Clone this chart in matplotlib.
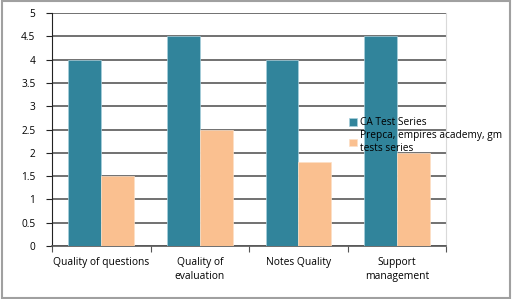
import matplotlib
matplotlib.use("Agg")
import matplotlib.pyplot as plt
from matplotlib.patches import Rectangle
import numpy as np

categories = ["Quality of questions", "Quality of\nevaluation", "Notes Quality", "Support\nmanagement"]
series_names = ["CA Test Series", "Prepca, empires academy, gm\ntests series"]
ca_values = [4.0, 4.5, 4.0, 4.5]
prepca_values = [1.5, 2.5, 1.8, 2.0]
yticks = [0, 0.5, 1, 1.5, 2, 2.5, 3, 3.5, 4, 4.5, 5]
ytick_labels = ["0", "0.5", "1", "1.5", "2", "2.5", "3", "3.5", "4", "4.5", "5"]

plt.rcParams['font.family'] = ['Open Sans', 'DejaVu Sans']

fig = plt.figure(figsize=(5.12, 2.99), dpi=100)
ax = fig.add_axes([0.1016, 0.177, 0.770, 0.7795])

x = np.arange(len(categories))
w = 1/3
teal = "#31849B"
peach = "#FAC090"
ax.bar(x - w/2, ca_values, width=w, color=teal, edgecolor="#a9d0dc", linewidth=0.5, label=series_names[0], zorder=3)
ax.bar(x + w/2, prepca_values, width=w, color=peach, edgecolor="#fde0c6", linewidth=0.5, label=series_names[1], zorder=3)

ax.set_xlim(-0.5, len(categories) - 0.5)
ax.set_ylim(0, 5)
ax.set_yticks(yticks)
ax.set_yticklabels(ytick_labels, fontsize=7.3)
ax.yaxis.grid(True, color="#4a4a4a", linewidth=1.1, zorder=0)
ax.set_axisbelow(True)

# category ticks at boundaries, labels at centers
ax.set_xticks(np.arange(len(categories) + 1) - 0.5)
ax.set_xticklabels([""] * (len(categories) + 1))
ax.set_xticks(x, minor=True)
ax.set_xticklabels(categories, minor=True, fontsize=7.4, linespacing=1.35)
ax.tick_params(axis='x', which='minor', length=0, pad=8)
ax.tick_params(axis='x', which='major', length=4, direction='out', color="#555555")
ax.tick_params(axis='y', length=4, direction='out', pad=8, color="#222222")

ax.spines['top'].set_visible(False)
ax.spines['right'].set_color("#d9d9d9")
ax.spines['left'].set_color("#222222")
ax.spines['bottom'].set_color("#555555")
ax.spines['bottom'].set_linewidth(1.2)

leg = ax.legend(loc='upper left', bbox_to_anchor=(0.742, 0.57), frameon=False,
                fontsize=7.3, handlelength=0.8, handleheight=0.8, handletextpad=0.3,
                labelspacing=0.2, borderaxespad=0)

fig.patches.append(Rectangle((0.004, 0.004), 0.992, 0.992, transform=fig.transFigure,
                             fill=False, edgecolor="#a0a0a0", linewidth=1.5))

fig.savefig("out.png", dpi=100)
